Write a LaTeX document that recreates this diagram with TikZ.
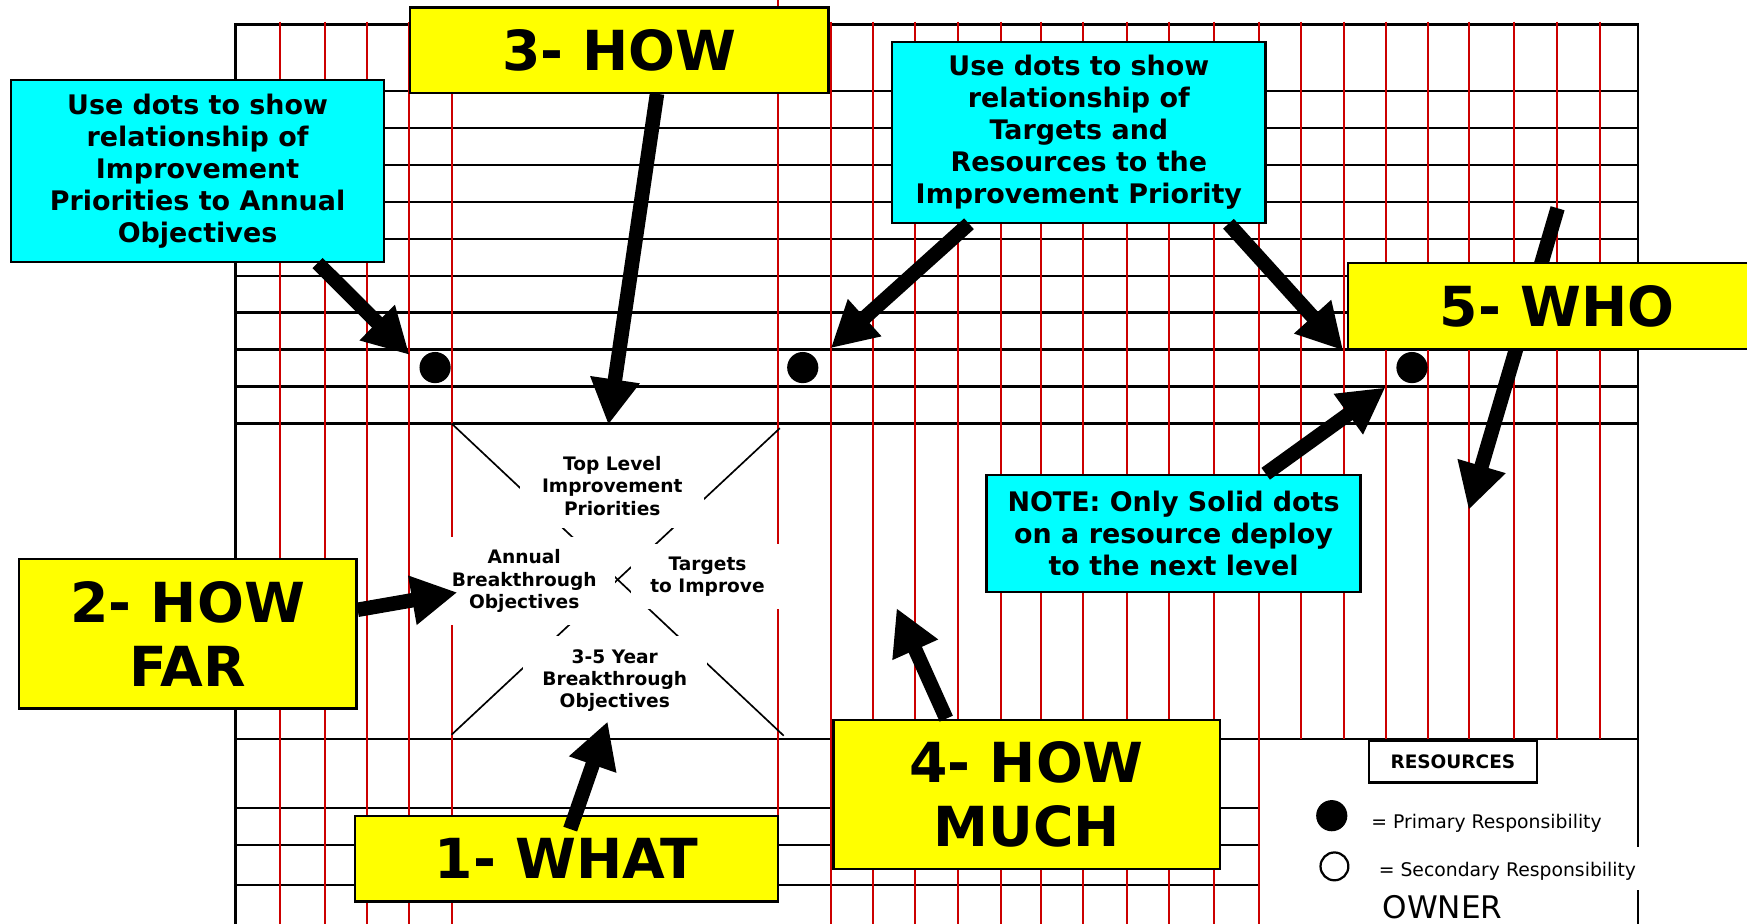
\documentclass[tikz,border=0pt]{standalone}
\usepackage{fontspec}
\setmainfont{DejaVu Sans}
\usepackage{tikz}
\usetikzlibrary{arrows.meta,calc}
\definecolor{gridred}{RGB}{204,0,0}
\definecolor{tagyellow}{RGB}{255,255,0}
\definecolor{hintcyan}{RGB}{0,255,255}
\newcommand{\tagfont}{\fontsize{28.2}{32.4}\selectfont\bfseries}
\newcommand{\hintfont}{\fontsize{13.75}{16.3}\selectfont\bfseries}
\newcommand{\cellfont}{\fontsize{9.5}{11.4}\selectfont\bfseries}
\newcommand{\keyfont}{\fontsize{9.6}{11}\selectfont}
\newcommand{\keybold}{\fontsize{9.45}{11}\selectfont\bfseries}
\newcommand{\ownerfont}{\fontsize{15.9}{18}\selectfont}
\tikzstyle{tagbox} = [draw, line width=0.04cm, fill=tagyellow, inner sep=0pt,
    align=center, font=\tagfont]
\tikzstyle{hintbox} = [draw, line width=0.04cm, fill=hintcyan, inner sep=0pt,
    align=center, font=\hintfont]
\tikzstyle{cellbox} = [fill=white, inner sep=0pt, align=center, font=\cellfont]
\tikzstyle{resdot} = [circle, fill=black, inner sep=0pt, minimum size=0.56cm]
\tikzstyle{line} = [draw, line width=0.26cm, -{Triangle[length=0.82cm, width=0.84cm]}]

\begin{document}
\begin{tikzpicture}[x=0.02cm, y=-0.02cm]
    \clip (0,0) rectangle (1568,829);
    \foreach \y in {81.4,114.6,147.8,181.0,214.2,247.4,280.5,313.7,346.9,380.1,663.3}
        \draw [line width=0.04cm] (211.2,\y) -- (1470.1,\y);
    \foreach \y in {725.2,758.7,794.6}
        \draw [line width=0.04cm] (211.2,\y) -- (1130,\y);
    \draw [line width=0.05cm] (211.2,829) -- (211.2,21.8) -- (1470.1,21.8) -- (1470.1,829);
    \foreach \x in {251.4,291.3,329.4,367.3,405.3,745.6,783.4,821.5,860,898.1,934.6,972,1011.1,1049.4,1089.8,1130}
        \draw [gridred, line width=0.036cm] (\x,19.4) -- (\x,829);
    \foreach \x in {1168.1,1205.9,1243.7,1281.8,1318.2,1358.5,1397.2,1436}
        \draw [gridred, line width=0.036cm] (\x,19.4) -- (\x,663.3);
    \draw [gridred, line width=0.036cm] (698.3,0) -- (698.3,810);
    \draw [line width=0.03cm] (405.3,380.1) -- (703.4,660.3);
    \draw [line width=0.03cm] (700,384.3) -- (405.3,659.4);
    \node [cellbox, minimum width=3.3cm, minimum height=1.52cm] (toplvl) at (549.5,436) {Top Level\\Improvement\\Priorities};
    \node [cellbox, minimum width=3.26cm, minimum height=1.57cm] (annual) at (470.5,521.5) {Annual\\Breakthrough\\Objectives};
    \node [cellbox, minimum width=2.76cm, minimum height=1.17cm] (targets) at (635,517.5) {Targets\\to Improve};
    \node [cellbox, minimum width=3.31cm, minimum height=1.6cm] (longterm) at (551.8,611) {3-5 Year\\Breakthrough\\Objectives};
    \node [resdot] (dotA) at (390.5,329.9) {};
    \node [resdot] (dotB) at (720.5,329.9) {};
    \node [resdot] (dotC) at (1267.3,329.9) {};
    \coordinate (whotail) at (1398,186.9);
    \coordinate (whotip) at (1318.2,457.6);
    \path [line] (whotail) -- (whotip);
    \node [hintbox, minimum width=6.706cm, minimum height=3.26cm] (dotsA) at (177.3,153.6) {Use dots to show\\relationship of\\Improvement\\Priorities to Annual\\Objectives};
    \node [hintbox, minimum width=6.706cm, minimum height=3.242cm] (dotsB) at (968.3,118.8) {Use dots to show\\relationship of\\Targets and\\Resources to the\\Improvement Priority};
    \node [hintbox, minimum width=6.714cm, minimum height=2.104cm] (note) at (1053.3,478.8) {NOTE: Only Solid dots\\on a resource deploy\\to the next level};
    \node [tagbox, minimum width=7.508cm, minimum height=1.53cm] (how) at (555.9,44.9) {3- HOW};
    \node [tagbox, minimum width=6.06cm, minimum height=2.68cm] (howfar) at (168.5,569) {2- HOW\\FAR};
    \node [tagbox, minimum width=7.592cm, minimum height=1.538cm] (what) at (508.5,770.6) {1- WHAT};
    \node [tagbox, minimum width=6.934cm, minimum height=2.68cm] (howmuch) at (921.4,713) {4- HOW\\MUCH};
    \node [tagbox, minimum width=7.512cm, minimum height=1.536cm] (who) at (1397.4,274.7) {5- WHO};
    \coordinate (tipA) at (367.5,318.5);
    \coordinate (tipB) at (546,381.3);
    \coordinate (tipC) at (745.6,312.5);
    \coordinate (tipD) at (1205.6,314.6);
    \coordinate (tipF) at (1243.4,347.8);
    \coordinate (tipG) at (410.5,531.7);
    \coordinate (tipH) at (545.4,647.5);
    \coordinate (tipK) at (804.7,545.8);
    \path [line] (dotsA.south -| 285,0) -- (tipA);
    \path [line] (how.south -| 589.7,0) -- (tipB);
    \path [line] (dotsB.south -| 869.7,0) -- (tipC);
    \path [line] (dotsB.south -| 1102.6,0) -- (tipD);
    \path [line] (note.north -| 1136,0) -- (tipF);
    \path [line] (howfar.east |- 0,547.3) -- (tipG);
    \path [line] ($(what.north -| 511.8,0)+(0,13)$) -- (tipH);
    \path [line] (howmuch.north -| 849.3,0) -- (tipK);
    \node [draw, line width=0.04cm, fill=white, inner sep=0pt, minimum width=3.02cm, minimum height=0.754cm, font=\keybold] (res) at (1304,683.4) {RESOURCES};
    \node [resdot] (prim) at (1195.3,732.1) {};
    \node [anchor=base west, inner sep=0pt, font=\keyfont] (primtxt) at (1230.5,744) {= Primary Responsibility};
    \node [circle, draw, line width=0.04cm, inner sep=0pt, minimum size=0.5cm] (sec) at (1197.7,777.6) {};
    \node [anchor=base west, fill=white, inner xsep=0.1cm, inner ysep=0pt, text height=0.53cm, text depth=0.23cm, font=\keyfont] (sectxt) at (1232.2,787.1) {= Secondary Responsibility};
    \node [anchor=base west, inner sep=0pt, font=\ownerfont] (owner) at (1240.6,824.5) {OWNER};
\end{tikzpicture}
\end{document}
